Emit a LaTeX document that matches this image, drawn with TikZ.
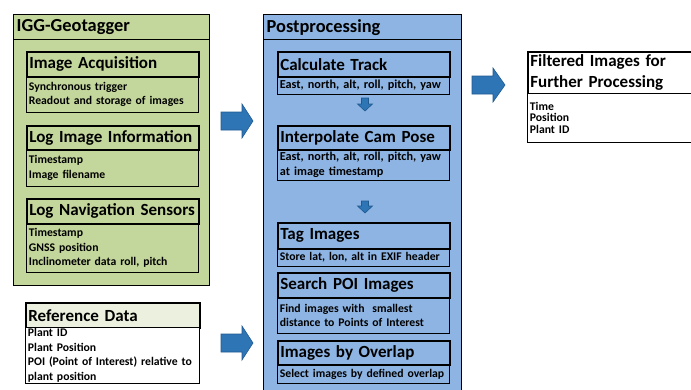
\documentclass[tikz,border=0pt]{standalone}
\usepackage{fontspec}
\setmainfont{Carlito}
\definecolor{gfill}{HTML}{C3D69B}
\definecolor{bfill}{HTML}{8DB4E2}
\definecolor{rfill}{HTML}{EBF1DE}
\definecolor{afill}{HTML}{2E75B6}
\definecolor{adraw}{HTML}{1F5A8F}
\tikzset{
  outerbox/.style={draw=black, line width=1.3pt, anchor=north west, inner sep=0pt},
  outerttl/.style={draw=black, line width=1.3pt, anchor=north west, inner xsep=3pt, inner ysep=0pt, align=left, font=\fontsize{18.4}{22}\selectfont\bfseries},
  ttl/.style={draw=black, line width=1.7pt, anchor=north west, inner xsep=2.5pt, inner ysep=0pt, align=left, font=\fontsize{17}{21}\selectfont\bfseries},
  bdy/.style={draw=black, line width=0.8pt, anchor=north west, inner xsep=2.5pt, inner ysep=0pt, align=left, font=\fontsize{11.7}{14.5}\selectfont\bfseries},
  blockarrow/.style={fill=afill, draw=adraw, line width=0.6pt},
}
\begin{document}
\begin{tikzpicture}[x=1pt,y=-1pt]
\useasboundingbox (0,0) rectangle (691,389);
\clip (0,0) rectangle (691,389);
% IGG-Geotagger
\node[outerbox, fill=gfill, minimum width=196pt, minimum height=271pt] (igg) at (13,14) {};
\node[outerttl, minimum width=196pt, minimum height=25pt, text width=190pt] (iggt) at (13,14) {IGG-Geotagger};
\node[ttl, minimum height=25pt, text width=167pt] (iat) at (26,51) {Image Acquisition};
\node[bdy, minimum height=36pt, text width=167pt] (iab) at (26,76) {Synchronous trigger\\Readout and storage of images};
\node[ttl, minimum height=24pt, text width=167pt] (lit) at (26,125) {Log Image Information};
\node[bdy, minimum height=37pt, text width=167pt] (lib) at (26,149) {Timestamp\\Image filename};
\node[ttl, minimum height=25pt, text width=167pt] (lnt) at (26,198) {Log Navigation Sensors};
\node[bdy, minimum height=49pt, text width=167pt] (lnb) at (26,223) {Timestamp\\GNSS position\\Inclinometer data roll, pitch};
% Reference data
\node[ttl, fill=rfill, minimum height=25pt, text width=169pt] (rdt) at (25,302) {Reference Data};
\node[bdy, fill=white, minimum height=56pt, text width=169pt, font=\fontsize{11.7}{14.6}\selectfont\bfseries] (rdb) at (25,327) {Plant ID\\Plant Position\\POI (Point of Interest) relative to\\plant position};
% Postprocessing
\node[outerbox, fill=bfill, minimum width=198pt, minimum height=400pt] (pp) at (263,14) {};
\node[outerttl, minimum width=198pt, minimum height=25pt, text width=192pt] (ppt) at (263,14) {Postprocessing};
\node[ttl, minimum height=25pt, text width=167pt] (ctt) at (277,51) {Calculate Track};
\node[bdy, minimum height=18pt, text width=167pt, font=\fontsize{12.2}{14.5}\selectfont\bfseries] (ctb) at (277,76) {East, north, alt, roll, pitch, yaw};
\node[ttl, minimum height=24pt, text width=167pt] (ict) at (277,125) {Interpolate Cam Pose};
\node[bdy, minimum height=31pt, text width=167pt, font=\fontsize{12.2}{14.5}\selectfont\bfseries] (icb) at (277,149) {East, north, alt, roll, pitch, yaw\\at image timestamp};
\node[ttl, minimum height=26pt, text width=167pt] (tit) at (277,222) {Tag Images};
\node[bdy, minimum height=18pt, text width=167pt] (tib) at (277,248) {Store lat, lon, alt in EXIF header};
\node[ttl, minimum height=25pt, text width=167pt] (spt) at (277,272) {Search POI Images};
\node[bdy, minimum height=36pt, text width=167pt] (spb) at (277,297) {Find images with\ \ smallest\\distance to Points of Interest};
\node[ttl, minimum height=24pt, text width=167pt] (iot) at (277,340) {Images by Overlap};
\node[bdy, minimum height=19pt, text width=167pt] (iob) at (277,364) {Select images by defined overlap};
% Filtered images
\node[ttl, fill=white, minimum height=42pt, text width=200pt] (fit) at (527,51) {Filtered Images for\\Further Processing};
\node[bdy, fill=white, minimum height=49pt, text width=200pt, font=\fontsize{11.7}{11.2}\selectfont\bfseries] (fib) at (527,93) {Time\\Position\\Plant ID};
% big arrows
\draw[blockarrow] (221,112) -- (242,112) -- (242,104) -- (253,121) -- (242,138) -- (242,130) -- (221,130) -- cycle;
\draw[blockarrow] (221,334) -- (242,334) -- (242,326) -- (253,343) -- (242,360) -- (242,352) -- (221,352) -- cycle;
\draw[blockarrow] (472,76) -- (493,76) -- (493,68) -- (505,85) -- (493,102) -- (493,94) -- (472,94) -- cycle;
% small arrows
\draw[blockarrow] (361.5,98) -- (368.5,98) -- (368.5,104) -- (372.5,104) -- (365,111) -- (357.5,104) -- (361.5,104) -- cycle;
\draw[blockarrow] (361.5,201) -- (368.5,201) -- (368.5,206) -- (372.5,206) -- (365,213) -- (357.5,206) -- (361.5,206) -- cycle;
\end{tikzpicture}
\end{document}
